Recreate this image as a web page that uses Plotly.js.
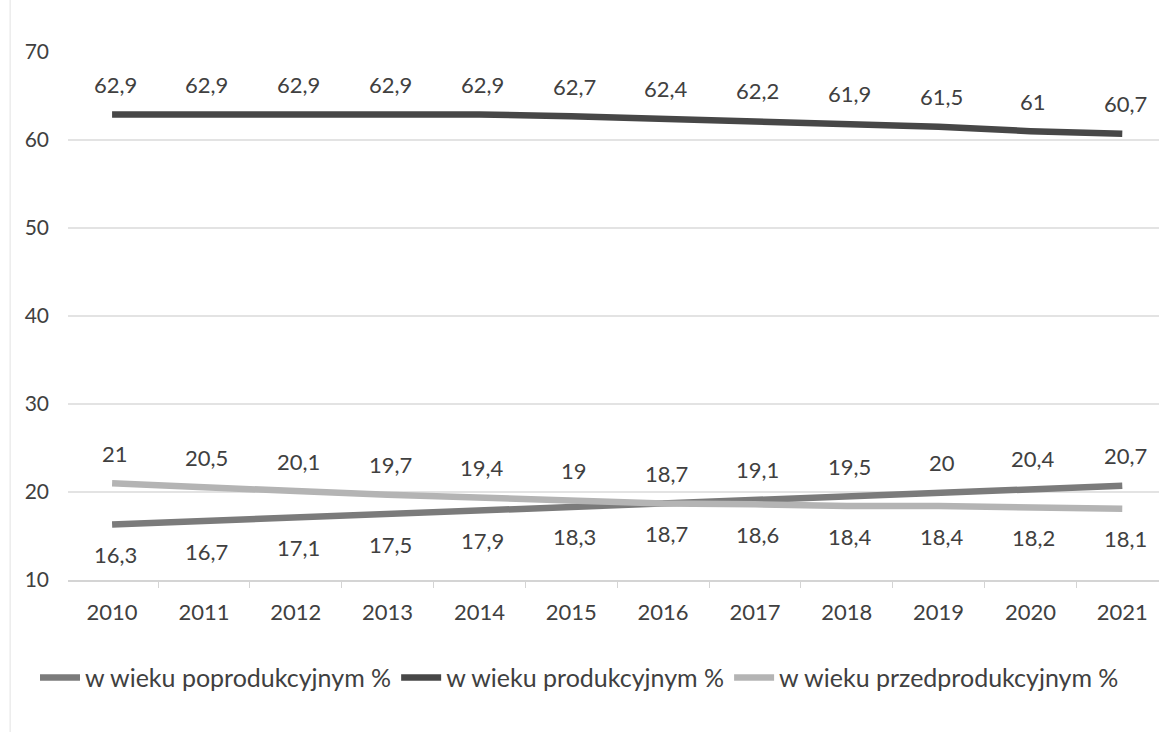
<!DOCTYPE html>
<html>
<head>
<meta charset="utf-8">
<script src="https://cdn.plot.ly/plotly-3.0.1.min.js"></script>
<style>html,body{margin:0;padding:0;background:#fff}#chart{width:1159px;height:732px}</style>
</head>
<body>
<div id="chart"></div>
<script>
const years = ['2010','2011','2012','2013','2014','2015','2016','2017','2018','2019','2020','2021'];
const poprodukcyjny = [16.3,16.7,17.1,17.5,17.9,18.3,18.7,19.1,19.5,20,20.4,20.7];
const produkcyjny = [62.9,62.9,62.9,62.9,62.9,62.7,62.4,62.2,61.9,61.5,61,60.7];
const przedprodukcyjny = [21,20.5,20.1,19.7,19.4,19,18.7,18.6,18.4,18.4,18.2,18.1];
const seriesNames = ['w wieku poprodukcyjnym %','w wieku produkcyjnym %','w wieku przedprodukcyjnym %'];
// label side per point: 1 = above, -1 = below
const popSide = [-1,-1,-1,-1,-1,-1,1,1,1,1,1,1];
const przedSide = [1,1,1,1,1,1,-1,-1,-1,-1,-1,-1];
const prodSide = years.map(() => 1);

const colors = ['#7b7b7b','#474747','#b4b4b4'];
const FONT = 'Lato, "Open Sans", sans-serif';
const TXT = '#404040';

const fmt = v => String(v).replace('.', ',');

const traces = [poprodukcyjny, produkcyjny, przedprodukcyjny].map((vals, i) => ({
  type: 'scatter', mode: 'lines', x: years, y: vals, name: seriesNames[i],
  line: {color: colors[i], width: 6.5}, hoverinfo: 'skip'
}));

const annotations = [];
[[poprodukcyjny, popSide],[produkcyjny, prodSide],[przedprodukcyjny, przedSide]].forEach(([vals, side]) => {
  vals.forEach((v, j) => {
    annotations.push({xref: 'x', yref: 'y', x: j, y: v, text: fmt(v), showarrow: false,
      yshift: side[j] * 30, xshift: 3,
      font: {family: FONT, size: 22, color: TXT}});
  });
});

const layout = {
  width: 1159, height: 732,
  margin: {l: 68, r: 0, t: 52, b: 152},
  paper_bgcolor: '#fff', plot_bgcolor: '#fff',
  showlegend: true,
  legend: {orientation: 'h', x: 0.5, xanchor: 'center', xref: 'container', y: 0.074, yref: 'container', yanchor: 'middle',
    font: {family: FONT, size: 25, color: TXT}, itemwidth: 40, tracegroupgap: 0},
  xaxis: {type: 'category', range: [-0.48, 11.4], showgrid: false, zeroline: false,
    showline: true, linecolor: '#d4d4d4', linewidth: 1.5,
    ticks: 'outside', tickson: 'boundaries', ticklen: 6, tickcolor: '#d4d4d4',
    tickfont: {family: FONT, size: 22, color: TXT}, ticklabelstandoff: 12},
  yaxis: {range: [10, 70], tickvals: [10,20,30,40,50,60,70], showgrid: true, gridcolor: '#e3e3e3', gridwidth: 1.5,
    zeroline: false, showline: false, ticks: '', ticklabelstandoff: 18,
    tickfont: {family: FONT, size: 21, color: TXT}},
  annotations: annotations,
  shapes: [{type: 'line', xref: 'paper', yref: 'paper', x0: -0.053, x1: -0.053, y0: -0.3, y1: 1.1, line: {color: '#ececec', width: 1.5}}]
};

Plotly.newPlot('chart', traces, layout, {displayModeBar: false, staticPlot: true});
</script>
</body>
</html>
